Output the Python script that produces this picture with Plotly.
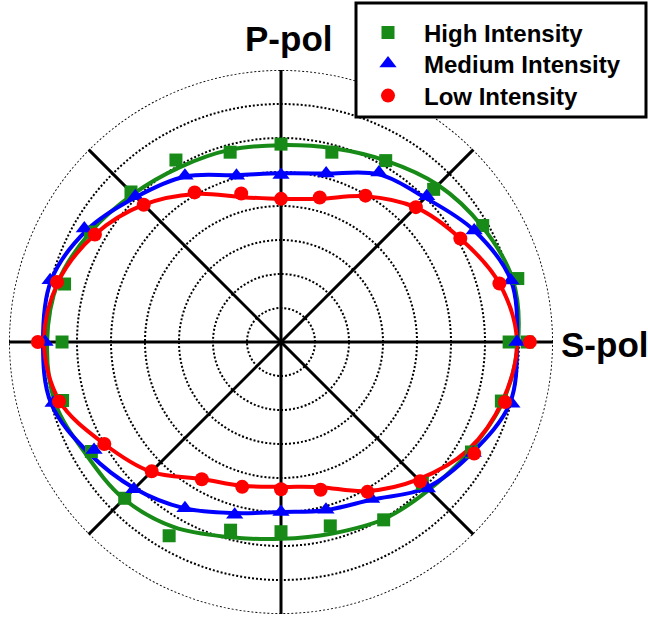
import plotly.graph_objects as go

# Polarization angle (degrees) of each measurement
angles_high = list(range(0, 361, 15))
angles_other = list(range(0, 346, 15))
angles_fit = list(range(0, 361, 15))

# Measured signal vs. polarization angle (arb. units)
high_vals = [6.71, 7.21, 6.85, 6.35, 6.16, 5.78, 5.82, 5.78, 6.18, 6.24, 6.47, 6.59, 6.44,
             6.65, 6.44, 6.50, 6.58, 5.73, 5.58, 5.60, 6.04, 5.88, 6.47, 6.71, 7.24]
medium_vals = [6.94, 7.00, 6.56, 6.06, 5.76, 5.13, 4.91, 5.06, 5.65, 6.06, 6.68, 7.03,
               6.94, 6.94, 6.35, 6.12, 5.65, 5.26, 5.00, 5.11, 5.33, 6.09, 6.53, 7.03]
low_vals = [7.32, 6.65, 6.09, 5.61, 4.97, 4.40, 4.21, 4.52, 5.08, 5.71, 6.32, 6.82,
            7.15, 6.76, 6.00, 5.38, 4.66, 4.41, 4.33, 4.50, 5.09, 5.79, 6.56, 6.82]

# Fitted curves sampled every 15 degrees
high_fit = [6.97, 7.06, 6.82, 6.53, 6.16, 5.90, 5.79, 5.85, 5.94, 6.15, 6.47, 6.79, 6.88,
            6.88, 6.62, 6.53, 6.29, 5.94, 5.79, 5.83, 6.02, 6.15, 6.41, 6.76, 6.97]
medium_fit = [6.94, 7.00, 6.56, 6.00, 5.70, 5.13, 4.96, 5.08, 5.62, 6.03, 6.59, 7.00, 7.00,
              7.00, 6.53, 6.09, 5.65, 5.21, 5.00, 5.12, 5.35, 6.06, 6.50, 6.97, 6.94]
low_fit = [6.94, 6.65, 6.09, 5.60, 4.95, 4.36, 4.21, 4.41, 5.03, 5.71, 6.32, 6.79, 6.97,
           6.74, 6.00, 5.40, 4.65, 4.38, 4.26, 4.42, 5.06, 5.71, 6.35, 6.74, 6.94]

# Outer boundary of the polar grid (drawn dotted like the inner rings)
r_max = 8
ring_theta = list(range(0, 361, 2))
ring_r = [r_max] * len(ring_theta)

series_names = ["High Intensity", "Medium Intensity", "Low Intensity"]
colors = ["#178a17", "#0000ff", "#ff0000"]
symbols = ["square", "triangle-up", "circle"]
marker_sizes = [13, 15, 14]
legend_ids = ["legend", "legend2", "legend3"]
legend_rows = [33, 64, 96]  # row centres in pixels from the top

W, H = 648, 617
cx, cy, R = 281, 342, 272  # pixel centre and outer radius of the polar area
label_font = dict(family="Liberation Sans, Arial", color="black", weight="bold")
dot_style = dict(color="black", width=1.8, dash="2px,2px")

fig = go.Figure()

fig.add_trace(go.Scatterpolar(
    r=ring_r, theta=ring_theta, mode="lines", line=dot_style,
    showlegend=False, hoverinfo="skip"))

fits = [high_fit, medium_fit, low_fit]
for fit, col in zip(fits, colors):
    fig.add_trace(go.Scatterpolar(
        r=fit, theta=angles_fit, mode="lines",
        line=dict(color=col, width=4, shape="spline", smoothing=1.0),
        showlegend=False, hoverinfo="skip"))

data = [(angles_high, high_vals), (angles_other, medium_vals), (angles_other, low_vals)]
for (th, vals), name, col, sym, ms, lg in zip(data, series_names, colors, symbols,
                                               marker_sizes, legend_ids):
    fig.add_trace(go.Scatterpolar(
        r=vals, theta=th, mode="markers", name=name, legend=lg,
        marker=dict(color=col, symbol=sym, size=ms, line=dict(width=0))))

legend_common = dict(
    xanchor="left", yanchor="middle", x=352 / W,
    bgcolor="rgba(0,0,0,0)", borderwidth=0, itemwidth=62,
    font=dict(size=24, **label_font),
)

fig.update_layout(
    width=W, height=H,
    margin=dict(l=0, r=0, t=0, b=0),
    paper_bgcolor="white",
    plot_bgcolor="white",
    polar=dict(
        domain=dict(x=[(cx - R) / W, (cx + R) / W],
                    y=[1 - (cy + R) / H, 1 - (cy - R) / H]),
        bgcolor="white",
        radialaxis=dict(range=[0, r_max], dtick=1, tick0=0, showticklabels=False,
                        ticks="", showline=False, gridcolor="black",
                        gridwidth=dot_style["width"], griddash=dot_style["dash"]),
        angularaxis=dict(dtick=45, showticklabels=False, ticks="", showline=False,
                         gridcolor="black", gridwidth=2.8, rotation=0,
                         direction="counterclockwise"),
    ),
    legend=dict(y=1 - legend_rows[0] / H, **legend_common),
    legend2=dict(y=1 - legend_rows[1] / H, **legend_common),
    legend3=dict(y=1 - legend_rows[2] / H, **legend_common),
    shapes=[dict(type="rect", xref="paper", yref="paper",
                 x0=356 / W, x1=646 / W, y0=1 - 117 / H, y1=1 - 3 / H,
                 line=dict(color="black", width=3), fillcolor="white", layer="above")],
    annotations=[
        dict(text="P-pol", x=288 / W, y=1 - 38 / H, xref="paper", yref="paper",
             showarrow=False, xanchor="center", yanchor="middle",
             font=dict(size=35, **label_font)),
        dict(text="S-pol", x=604 / W, y=1 - 344 / H, xref="paper", yref="paper",
             showarrow=False, xanchor="center", yanchor="middle",
             font=dict(size=35, **label_font)),
    ],
)

fig.write_html("out.html")
